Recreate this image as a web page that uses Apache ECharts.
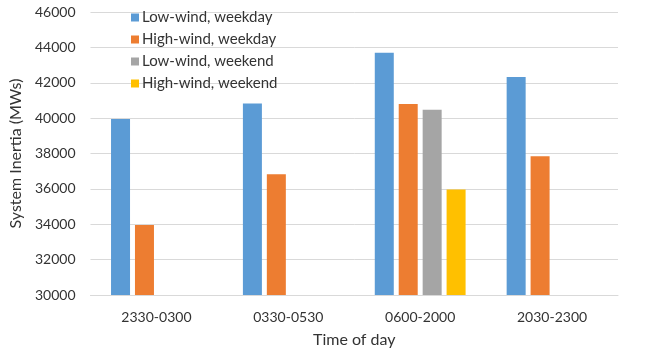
<!DOCTYPE html>
<html>
<head>
<meta charset="utf-8">
<script src="https://cdn.jsdelivr.net/npm/echarts@6/dist/echarts.min.js"></script>
<style>
html,body{margin:0;padding:0;background:#fff;}
#chart{width:647px;height:353px;}
</style>
</head>
<body>
<div id="chart"></div>
<script>
var categories = ['2330-0300', '0330-0530', '0600-2000', '2030-2300'];
var seriesNames = ['Low-wind, weekday', 'High-wind, weekday', 'Low-wind, weekend', 'High-wind, weekend'];
var lowWindWeekday = [39950, 40820, 43700, 42320];
var highWindWeekday = [33960, 36820, 40800, 37850];
var lowWindWeekend = [null, null, 40480, null];
var highWindWeekend = [null, null, 35970, null];
var yTicks = [30000, 32000, 34000, 36000, 38000, 40000, 42000, 44000, 46000];

var colors = ['#5B9BD5', '#ED7D31', '#A5A5A5', '#FFC000'];
var dataSets = [lowWindWeekday, highWindWeekday, lowWindWeekend, highWindWeekend];
var font = 'Lato, "Open Sans", sans-serif';
var textColor = '#333333';

var chart = echarts.init(document.getElementById('chart'), null, {renderer: 'canvas'});
chart.setOption({
  animation: false,
  backgroundColor: '#fff',
  color: colors,
  textStyle: {fontFamily: font, color: textColor},
  grid: {left: 90, right: 29, top: 12, bottom: 57, containLabel: false},
  legend: {
    orient: 'vertical',
    left: 126,
    top: 5,
    itemWidth: 8,
    itemHeight: 8,
    itemGap: 7,
    icon: 'rect',
    data: seriesNames,
    textStyle: {fontFamily: font, fontSize: 15, color: textColor, lineHeight: 15, padding: [0,0,0,-2]}
  },
  xAxis: {
    type: 'category',
    data: categories,
    name: 'Time of day',
    nameLocation: 'middle',
    nameGap: 37,
    nameTextStyle: {fontFamily: font, fontSize: 16, color: textColor},
    axisLine: {show: true, lineStyle: {color: '#D9D9D9', width: 1}},
    axisTick: {show: false},
    axisLabel: {fontFamily: font, fontSize: 14, color: textColor, margin: 15}
  },
  yAxis: {
    type: 'value',
    min: yTicks[0],
    max: yTicks[yTicks.length - 1],
    interval: 2000,
    name: 'System Inertia (MWs)',
    nameLocation: 'middle',
    nameGap: 66,
    nameTextStyle: {fontFamily: font, fontSize: 16, color: textColor},
    axisLine: {show: false},
    axisTick: {show: false},
    splitLine: {lineStyle: {color: '#D9D9D9', width: 1}},
    axisLabel: {fontFamily: font, fontSize: 14, color: textColor, margin: 15, formatter: function (v) { return String(v); }}
  },
  series: seriesNames.map(function (n, i) {
    return {
      name: n,
      type: 'bar',
      data: dataSets[i],
      barWidth: 19,
      barGap: '26%',
      itemStyle: {color: colors[i]}
    };
  })
});
</script>
</body>
</html>
